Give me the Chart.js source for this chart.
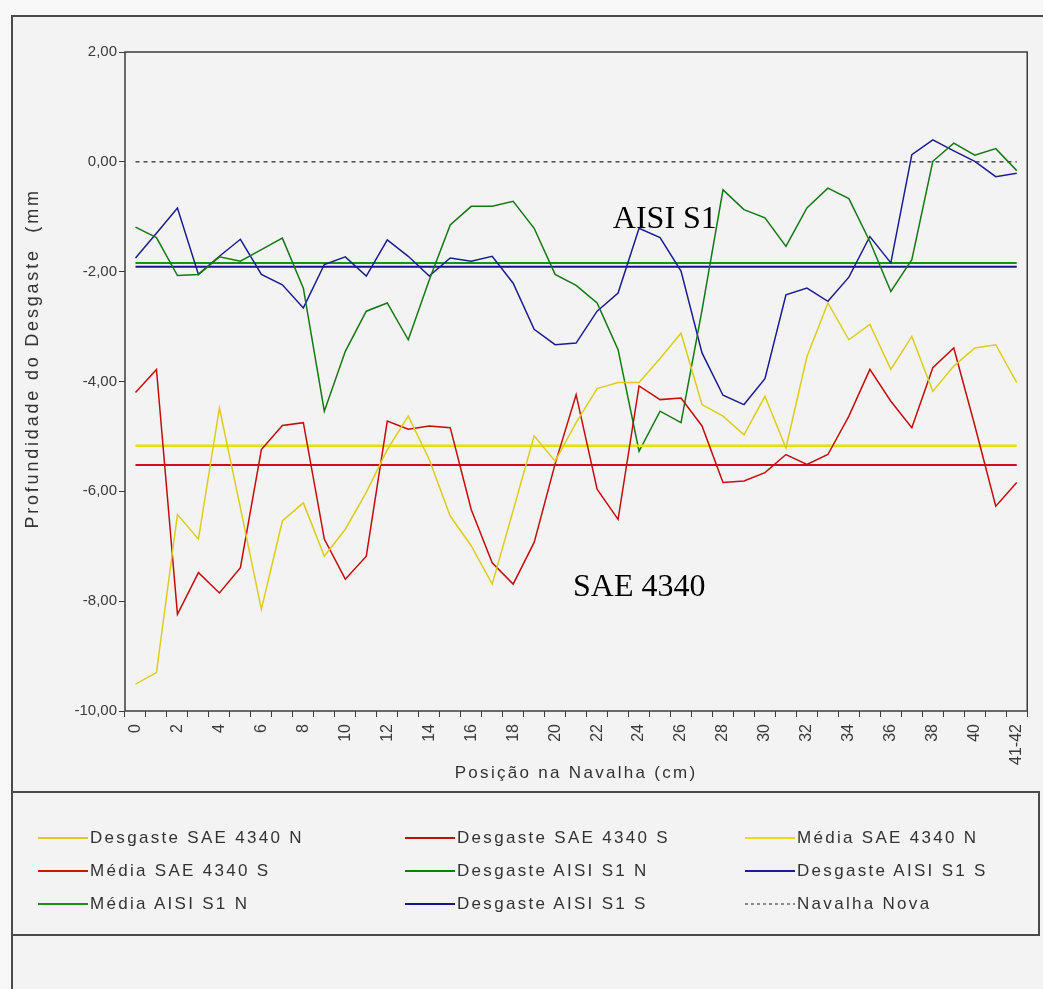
<!DOCTYPE html>
<html>
<head>
<meta charset="utf-8">
<script src="https://cdn.jsdelivr.net/npm/chart.js@4.4.1/dist/chart.umd.min.js"></script>
<style>
  html, body { margin: 0; padding: 0; background: #f8f8f8; }
  #wrap { position: relative; width: 1043px; height: 989px; overflow: hidden; }
  #frame { position: absolute; left: 11px; top: 15px; width: 1100px; height: 1000px;
           border-left: 2px solid #4a4a4a; border-top: 2px solid #4a4a4a; background: #f3f3f3; }
  #chart { position: absolute; left: 0; top: 0; }
  #legend { position: absolute; left: 11px; top: 791px; width: 1029px; height: 145px; box-sizing: border-box;
            border: 2px solid #4a4a4a; display: grid; grid-template-columns: 367px 340px 280px;
            grid-auto-rows: 33px; padding: 28px 0 0 25px;
            font: 17px "Liberation Sans", Arial, sans-serif; letter-spacing: 2.3px; color: #333; }
  .item { display: flex; align-items: center; white-space: nowrap; }
  .item svg { margin-right: 2px; }
</style>
</head>
<body>
<div id="wrap">
  <div id="frame"></div>
  <canvas id="chart" width="1043" height="800"></canvas>
  <div id="legend"></div>
</div>
<script>
// categories (cm along the blade)
const positions = ['0','1','2','3','4','5','6','7','8','9','10','11','12','13','14','15','16','17','18','19','20',
  '21','22','23','24','25','26','27','28','29','30','31','32','33','34','35','36','37','38','39','40','41','41-42'];

// wear depth (mm)
const desgasteSaeN = [-9.51, -9.30, -6.42, -6.87, -4.48, -6.30, -8.15, -6.54, -6.21, -7.18, -6.69, -6.02, -5.24, -4.63,
  -5.42, -6.45, -6.99, -7.69, -6.35, -4.99, -5.45, -4.75, -4.13, -4.02, -4.02, -3.58, -3.12, -4.42, -4.63, -4.97,
  -4.27, -5.21, -3.55, -2.57, -3.24, -2.96, -3.78, -3.18, -4.18, -3.72, -3.39, -3.33, -4.02];
const desgasteSaeS = [-4.20, -3.78, -8.24, -7.48, -7.85, -7.39, -5.24, -4.80, -4.75, -6.87, -7.60, -7.18, -4.72, -4.87,
  -4.81, -4.84, -6.33, -7.30, -7.69, -6.93, -5.50, -4.24, -5.96, -6.51, -4.08, -4.33, -4.30, -4.81, -5.84, -5.81,
  -5.66, -5.33, -5.51, -5.33, -4.63, -3.78, -4.36, -4.84, -3.75, -3.39, -4.80, -6.27, -5.84];
const desgasteAisiN = [-1.19, -1.38, -2.07, -2.05, -1.73, -1.81, -1.60, -1.39, -2.30, -4.54, -3.45, -2.72, -2.57, -3.24,
  -2.15, -1.15, -0.81, -0.81, -0.72, -1.21, -2.05, -2.25, -2.57, -3.42, -5.27, -4.54, -4.75, -2.70, -0.51, -0.87,
  -1.02, -1.54, -0.84, -0.48, -0.67, -1.45, -2.36, -1.78, 0.01, 0.34, 0.12, 0.24, -0.16];
const desgasteAisiS = [-1.75, -1.30, -0.84, -2.05, -1.72, -1.41, -2.05, -2.24, -2.66, -1.87, -1.73, -2.08, -1.42, -1.72,
  -2.08, -1.75, -1.81, -1.72, -2.21, -3.05, -3.33, -3.30, -2.72, -2.39, -1.21, -1.38, -1.99, -3.48, -4.25, -4.42,
  -3.95, -2.42, -2.30, -2.54, -2.10, -1.36, -1.84, 0.13, 0.40, 0.20, 0.01, -0.27, -0.21];

// averages and reference level
const mediaSaeN = -5.17;
const mediaSaeS = -5.52;
const mediaAisiN = -1.84;
const mediaAisiS = -1.91;
const navalhaNova = 0;

const yTicks = [-10, -8, -6, -4, -2, 0, 2];

const notes = [
  { text: 'AISI S1', at: 22.75, value: -1.2 },
  { text: 'SAE 4340', at: 20.85, value: -7.91 }
];

const xTitle = 'Posição na Navalha (cm)';
const yTitle = 'Profundidade do Desgaste  (mm';

// a flat line from first to last category
function flat(v) {
  return [{ x: positions[0], y: v }, { x: positions[positions.length - 1], y: v }];
}

function serie(label, data, color, width, dash) {
  return {
    label: label,
    data: data,
    borderColor: color,
    backgroundColor: color,
    borderWidth: width,
    borderDash: dash || [],
    pointRadius: 0,
    pointHoverRadius: 0,
    tension: 0,
    fill: false
  };
}

const decor = {
  id: 'decor',
  beforeDraw(chart) {
    const { ctx, chartArea: a } = chart;
    ctx.save();
    ctx.fillStyle = '#f3f3f3';
    ctx.fillRect(a.left, a.top, a.right - a.left, a.bottom - a.top);
    ctx.restore();
  },
  afterDraw(chart) {
    const { ctx, chartArea: a, scales } = chart;
    ctx.save();
    ctx.strokeStyle = '#3c3c3c';
    ctx.lineWidth = 1.5;
    ctx.strokeRect(a.left, a.top, a.right - a.left, a.bottom - a.top);

    ctx.fillStyle = '#000';
    ctx.font = '32px "Liberation Serif", "Times New Roman", serif';
    ctx.textAlign = 'left';
    ctx.textBaseline = 'alphabetic';
    notes.forEach(n => {
      ctx.fillText(n.text, scales.x.getPixelForValue(n.at), scales.y.getPixelForValue(n.value));
    });

    ctx.fillStyle = '#333';
    ctx.font = '17px "Liberation Sans", Arial, sans-serif';
    ctx.letterSpacing = '2.3px';
    ctx.textAlign = 'center';
    ctx.textBaseline = 'middle';
    ctx.fillText(xTitle, (a.left + a.right) / 2, a.bottom + 62);
    ctx.font = '18px "Liberation Sans", Arial, sans-serif';
    ctx.letterSpacing = '2.8px';
    ctx.translate(33, a.top + (a.bottom - a.top) * 0.465);
    ctx.rotate(-Math.PI / 2);
    ctx.fillText(yTitle, 0, 0);
    ctx.restore();
  }
};

Chart.defaults.font.family = '"Liberation Sans", Arial, sans-serif';
Chart.defaults.font.size = 15;
Chart.defaults.color = '#3a3a3a';

const chart = new Chart(document.getElementById('chart'), {
  type: 'line',
  data: {
    labels: positions,
    datasets: [
      serie('Desgaste SAE 4340 N', desgasteSaeN, '#dccd1c', 1.5),
      serie('Desgaste SAE 4340 S', desgasteSaeS, '#c40c0c', 1.5),
      serie('Média SAE 4340 N', flat(mediaSaeN), '#e6de10', 2.5),
      serie('Média SAE 4340 S', flat(mediaSaeS), '#cc1010', 2),
      serie('Desgaste AISI S1 N', desgasteAisiN, '#147814', 1.5),
      serie('Desgaste AISI S1 S', desgasteAisiS, '#1c1c90', 1.5),
      serie('Média AISI S1 N', flat(mediaAisiN), '#1e8c1e', 2),
      serie('Desgaste AISI S1 S', flat(mediaAisiS), '#16168a', 2),
      serie('Navalha Nova', flat(navalhaNova), '#222', 1.2, [4, 4])
    ]
  },
  options: {
    responsive: false,
    animation: false,
    devicePixelRatio: 1,
    layout: { padding: { left: 0, top: 52, right: 5, bottom: 0 } },
    plugins: {
      legend: { display: false },
      tooltip: { enabled: false }
    },
    scales: {
      x: {
        type: 'category',
        offset: true,
        afterFit: (scale) => { scale.height = 89; },
        border: { display: false },
        grid: { offset: true, drawOnChartArea: false, drawTicks: true, tickLength: 6, color: '#3c3c3c', lineWidth: 1 },
        ticks: {
          autoSkip: false,
          minRotation: 90,
          maxRotation: 90,
          padding: 7,
          font: { size: 16 },
          callback: function (value, index) {
            return index % 2 === 0 ? this.getLabelForValue(value) : '';
          }
        }
      },
      y: {
        min: yTicks[0],
        max: yTicks[yTicks.length - 1],
        afterFit: (scale) => { scale.width = 125; },
        afterBuildTicks: (scale) => { scale.ticks = yTicks.map(v => ({ value: v })); },
        border: { display: false },
        grid: { drawOnChartArea: false, drawTicks: true, tickLength: 6, color: '#3c3c3c', lineWidth: 1 },
        ticks: {
          padding: 2,
          callback: (v) => v.toFixed(2).replace('.', ',')
        }
      }
    }
  },
  plugins: [decor]
});

// legend in three columns, built from the chart's datasets
const legendBox = document.getElementById('legend');
chart.data.datasets.forEach(ds => {
  const item = document.createElement('div');
  item.className = 'item';
  const dash = ds.borderDash.length ? ' stroke-dasharray="3 3"' : '';
  const w = ds.borderDash.length ? 1.2 : 2;
  item.innerHTML = '<svg width="50" height="6"><line x1="0" y1="3" x2="50" y2="3" stroke="' + ds.borderColor +
    '" stroke-width="' + w + '"' + dash + '/></svg><span>' + ds.label + '</span>';
  legendBox.appendChild(item);
});
</script>
</body>
</html>
